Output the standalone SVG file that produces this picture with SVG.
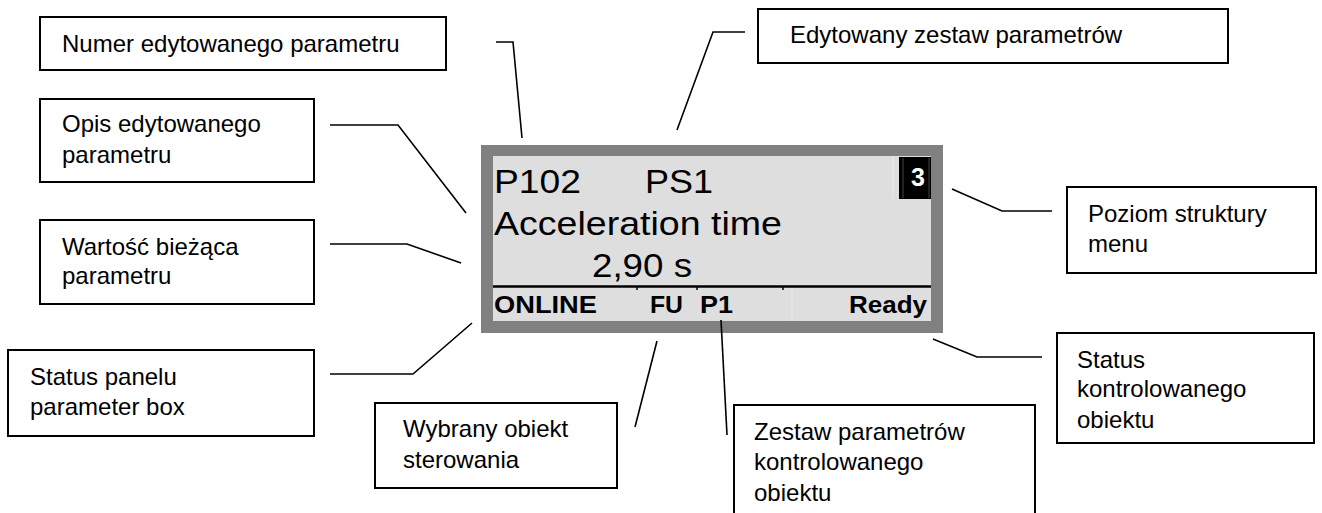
<svg xmlns="http://www.w3.org/2000/svg" width="1322" height="513" viewBox="0 0 1322 513">
<style>
.box{fill:#fff;stroke:#000;stroke-width:2}
.lbl{font-family:"Liberation Sans",Arial,sans-serif;font-size:24px;fill:#000}
.con{fill:none;stroke:#000;stroke-width:1.6}
.lcd{font-family:"Liberation Sans",Arial,sans-serif;font-size:34px;fill:#000}
.st{font-family:"Liberation Sans",Arial,sans-serif;font-size:24px;font-weight:bold;fill:#000}
</style>
<rect width="1322" height="513" fill="#fff"/>
<g id="display">
<rect x="481" y="145" width="462" height="188" fill="#808080"/>
<rect x="493" y="156" width="438" height="165" fill="#dedede"/>
<rect x="899" y="157" width="32" height="42" fill="#000"/>
<line x1="893" y1="156" x2="893" y2="199" stroke="#ececec" stroke-width="1"/>
<line x1="903" y1="158" x2="903" y2="198" stroke="#555" stroke-width="0.8"/>
<line x1="929" y1="158" x2="929" y2="198" stroke="#555" stroke-width="0.8"/>
<line x1="493" y1="286.5" x2="931" y2="286.5" stroke="#000" stroke-width="2.5"/>
<g stroke="#000" stroke-width="1.5">
<line x1="637" y1="286" x2="637" y2="290"/>
<line x1="697" y1="286" x2="697" y2="290"/>
<line x1="783" y1="286" x2="783" y2="290"/>
</g>
<line x1="792" y1="289" x2="792" y2="321" stroke="#e8e8e8" stroke-width="1"/>
<text class="lcd" x="494" y="193" textLength="87" lengthAdjust="spacingAndGlyphs">P102</text>
<text class="lcd" x="645" y="193" textLength="68" lengthAdjust="spacingAndGlyphs">PS1</text>
<text class="st" x="911" y="186" style="fill:#fff;font-size:25px">3</text>
<text class="lcd" x="494" y="235" textLength="288" lengthAdjust="spacingAndGlyphs">Acceleration time</text>
<text class="lcd" x="592" y="277" textLength="100" lengthAdjust="spacingAndGlyphs">2,90 s</text>
<text class="st" x="494" y="313" textLength="103" lengthAdjust="spacingAndGlyphs">ONLINE</text>
<text class="st" x="650" y="313" textLength="33" lengthAdjust="spacingAndGlyphs">FU</text>
<text class="st" x="700" y="313" textLength="33" lengthAdjust="spacingAndGlyphs">P1</text>
<text class="st" x="849" y="313" textLength="78" lengthAdjust="spacingAndGlyphs">Ready</text>
</g>
<g id="connectors">
<polyline class="con" points="496,42 513,42 522,138"/>
<polyline class="con" points="745,32 713,32 677,130"/>
<polyline class="con" points="330,125 398,125 466,213"/>
<polyline class="con" points="330,244 407,244 461,263"/>
<polyline class="con" points="330,374 413,374 472,323"/>
<line class="con" x1="657" y1="341" x2="635" y2="427"/>
<line class="con" x1="721" y1="320" x2="727" y2="435"/>
<polyline class="con" points="952,189 1002,211 1052,211"/>
<polyline class="con" points="933,339 977,357 1042,357"/>
</g>
<g id="numer">
<rect class="box" x="40" y="17" width="406" height="53"/>
<text class="lbl" x="62" y="52">Numer edytowanego parametru</text>
</g>
<g id="edytowany">
<rect class="box" x="758" y="9" width="470" height="54"/>
<text class="lbl" x="790" y="43">Edytowany zestaw parametrów</text>
</g>
<g id="opis">
<rect class="box" x="40" y="99" width="274" height="83"/>
<text class="lbl" x="62" y="132">Opis edytowanego</text>
<text class="lbl" x="62" y="163">parametru</text>
</g>
<g id="wartosc">
<rect class="box" x="40" y="220" width="274" height="84"/>
<text class="lbl" x="62" y="255">Wartość bieżąca</text>
<text class="lbl" x="62" y="284">parametru</text>
</g>
<g id="status-panelu">
<rect class="box" x="8" y="350" width="306" height="86"/>
<text class="lbl" x="30" y="385">Status panelu</text>
<text class="lbl" x="30" y="415">parameter box</text>
</g>
<g id="wybrany">
<rect class="box" x="375" y="403" width="242" height="85"/>
<text class="lbl" x="403" y="437">Wybrany obiekt</text>
<text class="lbl" x="403" y="468">sterowania</text>
</g>
<g id="zestaw">
<rect class="box" x="734" y="405" width="301" height="112"/>
<text class="lbl" x="754" y="440">Zestaw parametrów</text>
<text class="lbl" x="754" y="470">kontrolowanego</text>
<text class="lbl" x="754" y="501">obiektu</text>
</g>
<g id="poziom">
<rect class="box" x="1067" y="187" width="249" height="86"/>
<text class="lbl" x="1088" y="222">Poziom struktury</text>
<text class="lbl" x="1088" y="252">menu</text>
</g>
<g id="status-obiektu">
<rect class="box" x="1057" y="333" width="257" height="110"/>
<text class="lbl" x="1077" y="368">Status</text>
<text class="lbl" x="1077" y="397">kontrolowanego</text>
<text class="lbl" x="1077" y="428">obiektu</text>
</g>
</svg>
